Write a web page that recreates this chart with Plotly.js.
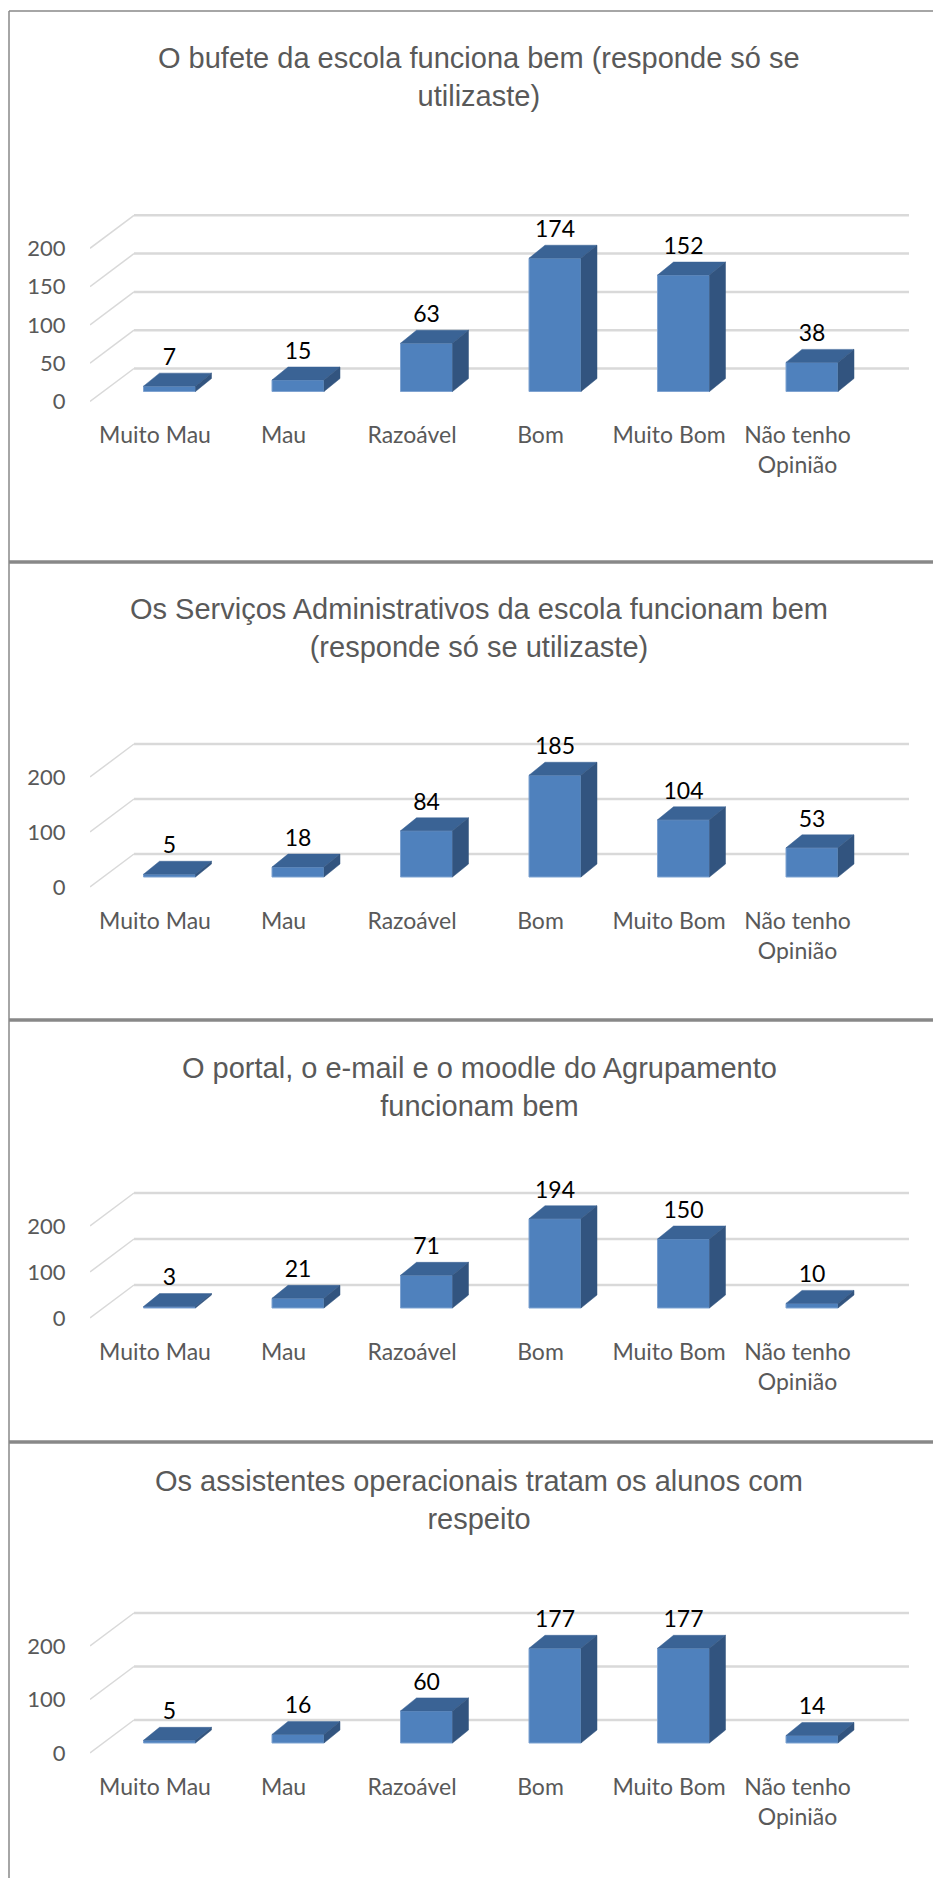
<!DOCTYPE html>
<html>
<head>
<meta charset="utf-8">
<script src="https://cdn.plot.ly/plotly-3.0.1.min.js"></script>
<style>
  html, body { margin: 0; padding: 0; background: #ffffff; }
  #chart { width: 933px; height: 1878px; }
</style>
</head>
<body>
<div id="chart"></div>
<script>
// ---------- DATA ----------
const categories = ['Muito Mau', 'Mau', 'Razoável', 'Bom', 'Muito Bom', 'Não tenho<br>Opinião'];
const bufeteValues = [7, 15, 63, 174, 152, 38];
const servicosValues = [5, 18, 84, 185, 104, 53];
const portalValues = [3, 21, 71, 194, 150, 10];
const assistentesValues = [5, 16, 60, 177, 177, 14];
const titles = [
  'O bufete da escola funciona bem (responde só se<br>utilizaste)',
  'Os Serviços Administrativos da escola funcionam bem<br>(responde só se utilizaste)',
  'O portal, o e-mail e o moodle do Agrupamento<br>funcionam bem',
  'Os assistentes operacionais tratam os alunos com<br>respeito'
];
const ticksFine = [0, 50, 100, 150, 200];
const ticksCoarse = [0, 100, 200];

// ---------- LAYOUT GEOMETRY (pixels) ----------
const W = 933, H = 1878;
const panelGeom = [
  { top: 11,   zero: 401.5, k: 0.766, titleY: 77 },
  { top: 562,  zero: 887,   k: 0.55,  titleY: 628.5 },
  { top: 1020, zero: 1318,  k: 0.46,  titleY: 1086.5 },
  { top: 1442, zero: 1753,  k: 0.535, titleY: 1499.5 }
];
const seriesList = [bufeteValues, servicosValues, portalValues, assistentesValues];
const tickList = [ticksFine, ticksCoarse, ticksCoarse, ticksCoarse];

const CAT0 = 155, CATSTEP = 128.5;      // px of category 0 label, px per category
const PLOT_L = 90, PLOT_R = 912;
const GRID_END = 909;
const BACK_DX = 44, BACK_DY = 33;       // back wall offset (px)
const BAR_OFF_PX = 14.5, BAR_W_PX = 52; // front face centre offset, width
const BAR_BASE_PX = 10;                 // front face bottom above front zero
const DEPTH_DX = 16, DEPTH_DY = 13;     // bar depth
const LABEL_GAP = 14;

const C_FRONT = '#4F81BD', C_TOP = '#3A6395', C_SIDE = '#32547F';
const C_GRID = '#D9D9D9', C_TEXT = '#595959', C_BORDER = '#888888';
const FONT = 'Lato, "Open Sans", sans-serif';

const px2x = p => (p - CAT0) / CATSTEP;
const idx = categories.map((c, i) => i);

const traces = [];
const layout = {
  width: W, height: H,
  margin: { l: 0, r: 0, t: 0, b: 0 },
  paper_bgcolor: '#ffffff', plot_bgcolor: 'rgba(0,0,0,0)',
  showlegend: false,
  shapes: [], annotations: []
};

panelGeom.forEach((g, n) => {
  const sfx = n === 0 ? '' : String(n + 1);
  const xa = 'x' + sfx, ya = 'y' + sfx;
  const vals = seriesList[n];
  const ticks = tickList[n];
  const k = g.k;
  const botPx = g.zero + 6, topPx = g.top + 120;

  layout['xaxis' + sfx] = {
    domain: [PLOT_L / W, PLOT_R / W],
    range: [px2x(PLOT_L), px2x(PLOT_R)],
    anchor: ya,
    tickvals: idx, ticktext: categories,
    showgrid: false, zeroline: false, showline: false,
    ticks: 'outside', ticklen: 7, tickcolor: 'rgba(0,0,0,0)',
    tickfont: { family: FONT, size: 23, color: C_TEXT },
    fixedrange: true
  };
  layout['yaxis' + sfx] = {
    domain: [1 - botPx / H, 1 - topPx / H],
    range: [(g.zero - botPx) / k, (g.zero - topPx) / k],
    anchor: xa,
    tickvals: ticks,
    showgrid: false, zeroline: false, showline: false,
    ticks: 'outside', ticklen: 19, tickcolor: 'rgba(0,0,0,0)',
    tickfont: { family: FONT, size: 22, color: C_TEXT },
    fixedrange: true
  };

  const baseU = BAR_BASE_PX / k;
  const off = BAR_OFF_PX / CATSTEP, bw = BAR_W_PX / CATSTEP;
  const ddx = DEPTH_DX / CATSTEP, ddy = DEPTH_DY / k;

  // back wall gridlines + perspective diagonals
  const xl = px2x(PLOT_L), xb = px2x(PLOT_L + BACK_DX), xe = px2x(GRID_END);
  const bdy = BACK_DY / k;
  ticks.forEach(t => {
    layout.shapes.push({ type: 'line', xref: xa, yref: ya, layer: 'below',
      x0: xl, y0: t, x1: xb, y1: t + bdy, line: { color: C_GRID, width: 1.5 } });
    layout.shapes.push({ type: 'line', xref: xa, yref: ya, layer: 'below',
      x0: xb, y0: t + bdy, x1: xe, y1: t + bdy, line: { color: C_GRID, width: 2.5 } });
  });

  // front faces
  traces.push({
    type: 'bar', xaxis: xa, yaxis: ya,
    x: idx.map(i => i + off), y: vals, base: baseU, width: bw,
    marker: { color: C_FRONT, line: { color: '#7FA3D1', width: 1 } },
    hoverinfo: 'skip'
  });

  // top and side faces
  const tx = [], ty = [];
  const sx = [], sy = [];
  idx.forEach(i => {
    const x0 = i + off - bw / 2, x1 = i + off + bw / 2;
    const yT = baseU + vals[i];
    tx.push(x0, x1, x1 + ddx, x0 + ddx, x0, null);
    ty.push(yT, yT, yT + ddy, yT + ddy, yT, null);
    sx.push(x1, x1 + ddx, x1 + ddx, x1, x1, null);
    sy.push(baseU, baseU + ddy, yT + ddy, yT, baseU, null);
  });
  traces.push({ type: 'scatter', mode: 'lines', xaxis: xa, yaxis: ya,
    x: tx, y: ty, fill: 'toself', fillcolor: C_TOP,
    line: { color: C_TOP, width: 0.5 }, hoverinfo: 'skip' });
  traces.push({ type: 'scatter', mode: 'lines', xaxis: xa, yaxis: ya,
    x: sx, y: sy, fill: 'toself', fillcolor: C_SIDE,
    line: { color: C_SIDE, width: 0.5 }, hoverinfo: 'skip' });

  // data labels
  traces.push({ type: 'scatter', mode: 'text', xaxis: xa, yaxis: ya,
    x: idx.map(i => i + off),
    y: vals.map(v => baseU + v + ddy + LABEL_GAP / k),
    text: vals.map(v => String(v)),
    textposition: 'middle center',
    textfont: { family: FONT, size: 23, color: '#000000' },
    cliponaxis: false, hoverinfo: 'skip' });

  // title
  layout.annotations.push({
    xref: 'paper', yref: 'paper', x: 479 / W, y: 1 - g.titleY / H,
    xanchor: 'center', yanchor: 'middle', showarrow: false,
    text: titles[n], align: 'center',
    font: { family: '"Liberation Sans", Arial, sans-serif', size: 29, color: C_TEXT }
  });
});

// panel borders
layout.shapes.push({ type: 'line', xref: 'paper', yref: 'paper',
  x0: 9 / W, y0: 1 - 11 / H, x1: 1, y1: 1 - 11 / H, line: { color: C_BORDER, width: 1.5 } });
layout.shapes.push({ type: 'line', xref: 'paper', yref: 'paper',
  x0: 9 / W, y0: 1 - 11 / H, x1: 9 / W, y1: 0, line: { color: C_BORDER, width: 1.5 } });
[562, 1020, 1442].forEach(y => {
  layout.shapes.push({ type: 'line', xref: 'paper', yref: 'paper',
    x0: 9 / W, y0: 1 - y / H, x1: 1, y1: 1 - y / H, line: { color: C_BORDER, width: 3.5 } });
});

Plotly.newPlot('chart', traces, layout, { displayModeBar: false, staticPlot: true });
</script>
</body>
</html>
